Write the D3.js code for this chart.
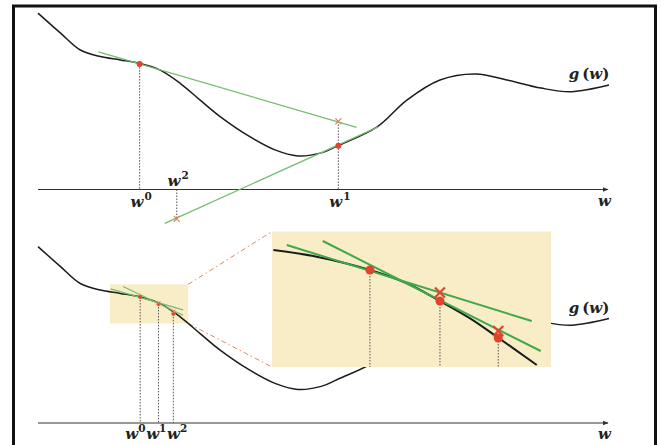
<!DOCTYPE html>
<html><head><meta charset="utf-8">
<script src="https://cdn.jsdelivr.net/npm/d3@7"></script>
<style>html,body{margin:0;padding:0;background:#fff;} svg{display:block;}</style>
</head><body><svg id="c" width="661" height="445"></svg>
<script>
// ---- the cost function g(w) (w: 0..10, g: height above axis)
const curveW = [0, 0.39, 0.74, 1.09, 1.44, 1.79, 2.14, 2.49, 2.84, 3.19, 3.71, 4.15, 4.55, 4.96, 5.25, 5.94, 6.46, 7.04, 7.67, 8.21, 8.81, 9.34, 10];
const curveG = [5.88, 5.22, 4.65, 4.43, 4.32, 4.20, 3.98, 3.54, 2.98, 2.43, 1.76, 1.32, 1.12, 1.22, 1.46, 2.09, 2.98, 3.65, 3.85, 3.65, 3.38, 3.26, 3.48];

// ---- top panel: large steps
const topStepW = [1.78, 5.26, 2.43];          // w0, w1, w2
const topStepNames = ["0", "1", "2"];
const topDotW = [1.78, 5.26];
const topDotG = [4.18, 1.46];
const topCrossW = [5.26, 2.43];
const topCrossG = [2.27, -0.98];
const topTangent1W = [1.06, 5.58], topTangent1G = [4.59, 2.07];
const topTangent2W = [5.96, 2.22], topTangent2G = [2.09, -1.13];

// ---- bottom panel: small steps
const botStepW = [1.79, 2.11, 2.37];
const botStepG = [4.20, 3.97, 3.64];
const botCrossW = [2.11, 2.37];
const botCrossG = [4.00, 3.71];
const botTangentAW = [1.27, 2.54], botTangentAG = [4.47, 3.77];
const botTangentBW = [1.49, 2.54], botTangentBG = [4.55, 3.59];
const zoomBoxW = [1.26, 2.63], zoomBoxG = [3.32, 4.62];

// ---- magnified inset (own 0..100 coordinates)
const insetCurveU = [0.5, 16.0, 35.1, 48.3, 60.2, 71.0, 81.1, 94.9];
const insetCurveV = [86.3, 81.4, 71.6, 61.8, 48.7, 35.9, 21.6, 1.5];
const insetDotU = [35.1, 60.2, 81.1];
const insetDotV = [71.6, 48.7, 21.4];
const insetCrossU = [60.2, 81.1];
const insetCrossV = [55.0, 26.6];
const insetLineAU = [5.3, 93.1], insetLineAV = [90.0, 33.9];
const insetLineBU = [18.2, 96.3], insetLineBV = [93.0, 11.8];

const svg = d3.select("#c");
const x = d3.scaleLinear().domain([0, 10]).range([38, 609]);
const yTop = d3.scaleLinear().domain([0, 6]).range([189.5, 9.5]);
const yBot = d3.scaleLinear().domain([0, 6]).range([423, 243]);
const ix = d3.scaleLinear().domain([0, 100]).range([272, 551]);
const iy = d3.scaleLinear().domain([0, 100]).range([367, 231.5]);

const BLACK = "#1c1c1c", GREEN_L = "#72be6e", GREEN = "#3ea94a", RED = "#e2432b", ORANGE = "#dc8763", BOX = "#f8edc6", DOT = "#555";
const MATH = "'DejaVu Serif', serif";
const FS = 15, SUP = 10.5;

svg.append("defs").append("marker").attr("id", "arr").attr("viewBox", "0 0 10 10")
  .attr("refX", 9).attr("refY", 5).attr("markerWidth", 6).attr("markerHeight", 6)
  .attr("markerUnits", "userSpaceOnUse").attr("orient", "auto")
  .append("path").attr("d", "M0,1 L10,5 L0,9 Z").attr("fill", "#333");

const curveData = curveW.map((w, i) => [w, curveG[i]]);
const pair = (a, b) => a.map((v, i) => [v, b[i]]);

function mathText(px, py, anchor) {
  return svg.append("text").attr("x", px).attr("y", py).attr("text-anchor", anchor)
    .attr("font-family", MATH).attr("font-weight", "bold").attr("font-size", FS).attr("fill", "#222");
}
function axis(yS) {
  svg.append("line").attr("x1", x(0)).attr("x2", x(10) - 1).attr("y1", yS(0)).attr("y2", yS(0))
    .attr("stroke", "#333").attr("stroke-width", 1.2).attr("marker-end", "url(#arr)");
  mathText(x(9.92), yS(0) + 16, "middle").attr("font-style", "italic").text("w");
}
function gLabel(yS, gv) {
  const t = mathText(x(9.65), yS(gv) + 5, "middle");
  t.append("tspan").attr("font-style", "italic").text("g");
  t.append("tspan").attr("dx", 3).text("(");
  t.append("tspan").attr("font-style", "italic").text("w");
  t.append("tspan").text(")");
}
function wSup(t, sup) {
  t.append("tspan").attr("font-style", "italic").attr("dy", 0).text("w");
  t.append("tspan").attr("font-size", SUP).attr("dy", -7).attr("dx", 1).text(sup);
  t.append("tspan").attr("font-size", SUP).attr("dy", 7).text("\u200A");
}
function wLabel(px, py, sup) { wSup(mathText(px, py, "middle"), sup); }
function line(pts, xs, ys, color, w) {
  svg.append("path").datum(pts).attr("fill", "none").attr("stroke", color).attr("stroke-width", w)
    .attr("d", d3.line().x(d => xs(d[0])).y(d => ys(d[1])));
}
function vdot(px, y1, y2) {
  svg.append("line").attr("x1", px).attr("x2", px).attr("y1", y1).attr("y2", y2)
    .attr("stroke", DOT).attr("stroke-width", 1).attr("stroke-dasharray", "1.5,1.5");
}
function dot(px, py, r, c) { svg.append("circle").attr("cx", px).attr("cy", py).attr("r", r).attr("fill", c); }
function cross(px, py, s, c, w) {
  svg.append("path").attr("d", `M${px - s},${py - s}L${px + s},${py + s}M${px - s},${py + s}L${px + s},${py - s}`)
    .attr("stroke", c).attr("stroke-width", w).attr("fill", "none");
}
const smooth = (xs, ys) => d3.line().x(d => xs(d[0])).y(d => ys(d[1])).curve(d3.curveCatmullRom.alpha(0.5));

// ================= TOP PANEL =================
axis(yTop);
vdot(x(topStepW[0]), yTop(topDotG[0]), yTop(0));
vdot(x(topStepW[1]), yTop(topCrossG[0]), yTop(0));
vdot(x(topStepW[2]), yTop(0), yTop(topCrossG[1]));
svg.append("path").datum(curveData).attr("fill", "none").attr("stroke", BLACK).attr("stroke-width", 1.5).attr("d", smooth(x, yTop));
line(pair(topTangent1W, topTangent1G), x, yTop, GREEN_L, 1.3);
line(pair(topTangent2W, topTangent2G), x, yTop, GREEN_L, 1.3);
topDotW.forEach((w, i) => dot(x(w), yTop(topDotG[i]), 3, RED));
topCrossW.forEach((w, i) => cross(x(w), yTop(topCrossG[i]), 3, ORANGE, 1.3));
gLabel(yTop, 3.85);
wLabel(x(topStepW[0]) + 2, yTop(0) + 17, topStepNames[0]);
wLabel(x(topStepW[1]) + 2, yTop(0) + 17, topStepNames[1]);
wLabel(x(topStepW[2]) + 2, yTop(0) - 4, topStepNames[2]);

// ================= BOTTOM PANEL =================
axis(yBot);
svg.append("rect").attr("x", x(zoomBoxW[0])).attr("y", yBot(zoomBoxG[1]))
  .attr("width", x(zoomBoxW[1]) - x(zoomBoxW[0])).attr("height", yBot(zoomBoxG[0]) - yBot(zoomBoxG[1])).attr("fill", BOX);
// connectors
[[zoomBoxG[1], 100], [zoomBoxG[0], 0]].forEach(([g, v]) => {
  svg.append("line").attr("x1", x(zoomBoxW[1])).attr("y1", yBot(g)).attr("x2", ix(0)).attr("y2", iy(v))
    .attr("stroke", ORANGE).attr("stroke-width", 1).attr("stroke-dasharray", "5,3,1.5,3");
});
botStepW.forEach((w, i) => vdot(x(w), yBot(botStepG[i]), yBot(0)));
svg.append("path").datum(curveData).attr("fill", "none").attr("stroke", BLACK).attr("stroke-width", 1.5).attr("d", smooth(x, yBot));
line(pair(botTangentAW, botTangentAG), x, yBot, GREEN_L, 1.2);
line(pair(botTangentBW, botTangentBG), x, yBot, GREEN_L, 1.2);
botStepW.forEach((w, i) => dot(x(w), yBot(botStepG[i]), 2, RED));
botCrossW.forEach((w, i) => cross(x(w), yBot(botCrossG[i]), 2, ORANGE, 1));
gLabel(yBot, 3.85);
{
  const t = mathText(x(botStepW[0]) - 15, yBot(0) + 16, "start");
  topStepNames.forEach(s => {
    t.append("tspan").attr("font-style", "italic").text("w");
    t.append("tspan").attr("font-size", SUP).attr("dy", -7).text(s);
    t.append("tspan").attr("font-size", 2).attr("dy", 7).text(" ");
  });
}

// ================= INSET =================
svg.append("rect").attr("x", ix(0)).attr("y", iy(100)).attr("width", ix(100) - ix(0)).attr("height", iy(0) - iy(100)).attr("fill", BOX);
insetDotU.forEach((u, i) => vdot(ix(u), iy(insetDotV[i]), iy(0)));
svg.append("path").datum(pair(insetCurveU, insetCurveV)).attr("fill", "none").attr("stroke", BLACK).attr("stroke-width", 2).attr("d", smooth(ix, iy));
line(pair(insetLineAU, insetLineAV), ix, iy, GREEN, 2);
line(pair(insetLineBU, insetLineBV), ix, iy, GREEN, 2);
insetDotU.forEach((u, i) => dot(ix(u), iy(insetDotV[i]), 4.5, RED));
insetCrossU.forEach((u, i) => cross(ix(u), iy(insetCrossV[i]), 5, RED, 2.2));

// frame
svg.append("rect").attr("x", 13.5).attr("y", 6).attr("width", 642).attr("height", 500)
  .attr("fill", "none").attr("stroke", "#111").attr("stroke-width", 3);
</script></body></html>
